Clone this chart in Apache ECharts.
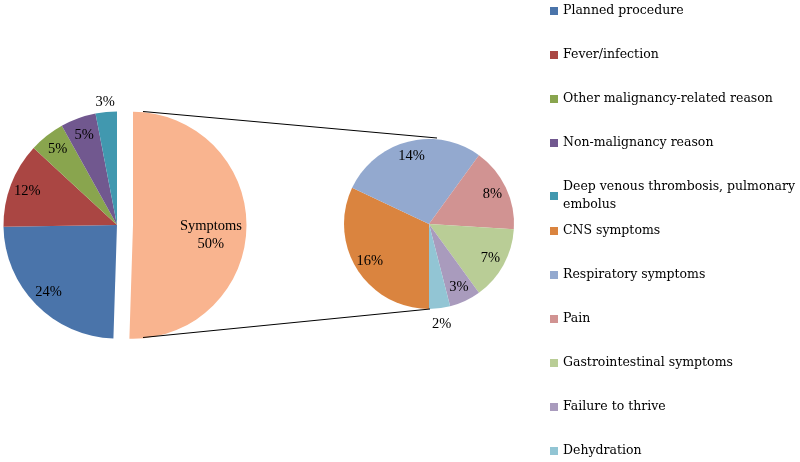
<!DOCTYPE html>
<html>
<head>
<meta charset="utf-8">
<script src="https://cdn.jsdelivr.net/npm/echarts@6/dist/echarts.min.js"></script>
<style>
html,body{margin:0;padding:0;background:#fff;}
#chart{width:800px;height:462px;}
</style>
</head>
<body>
<div id="chart"></div>
<script>
// ---- data ----
var mainNames = ['Symptoms', 'Planned procedure', 'Fever/infection', 'Other malignancy-related reason', 'Non-malignancy reason', 'Deep venous thrombosis, pulmonary embolus'];
var mainValues = [50, 24, 12, 5, 5, 3];
var subNames = ['CNS symptoms', 'Respiratory symptoms', 'Pain', 'Gastrointestinal symptoms', 'Failure to thrive', 'Dehydration'];
var subValues = [16, 14, 8, 7, 3, 2];
var legendMain = ['Planned procedure', 'Fever/infection', 'Other malignancy-related reason', 'Non-malignancy reason', 'Deep venous thrombosis, pulmonary embolus'];
var legendSub = ['CNS symptoms', 'Respiratory symptoms', 'Pain', 'Gastrointestinal symptoms', 'Failure to thrive', 'Dehydration'];

// ---- styles / layout ----
var mainColors = ['#F9B48F', '#4A74AA', '#AA4643', '#89A54E', '#71588F', '#4198AF'];
var subColors = ['#DA843F', '#93A9CF', '#D19392', '#B9CD96', '#A99BBD', '#92C5D4'];
var C1 = [117, 225], R1 = 113.5, OFF = 16;
var C2 = [429, 224], R2 = 85;
var labelFont = {fontFamily: 'Liberation Serif', fontSize: 14.5, color: '#000'};

function mainData(withColor) {
  return mainNames.map(function (n, i) {
    var d = {name: n, value: mainValues[i]};
    if (withColor) d.itemStyle = {color: mainColors[i]};
    if (n === 'Symptoms') d.selected = true;
    return d;
  });
}
function subData(withColor) {
  return subNames.map(function (n, i) {
    var d = {name: n, value: subValues[i]};
    if (withColor) d.itemStyle = {color: subColors[i]};
    return d;
  });
}

function overlay(data, center, radius, startAngle, showNames, extraLabel) {
  data.forEach(function (d) {
    d.itemStyle = {color: 'rgba(0,0,0,0)'};
    d.label = {show: showNames.indexOf(d.name) >= 0};
  });
  return {
    type: 'pie', center: center, radius: radius, startAngle: startAngle, clockwise: true,
    selectedMode: 'single', selectedOffset: OFF, silent: true, animation: false,
    avoidLabelOverlap: false, z: 3,
    label: Object.assign({position: 'inside', formatter: '{c}%'}, labelFont, extraLabel || {}),
    labelLine: {show: false},
    emphasis: {disabled: true},
    select: {itemStyle: {color: 'rgba(0,0,0,0)'}},
    data: data
  };
}

var series = [
  {
    type: 'pie', center: C1, radius: [0, R1], startAngle: 90, clockwise: true,
    selectedMode: 'single', selectedOffset: OFF, silent: true, animation: false,
    label: {show: false}, labelLine: {show: false},
    itemStyle: {borderWidth: 0},
    emphasis: {disabled: true},
    data: mainData(true)
  },
  {
    type: 'pie', center: C2, radius: [0, R2], startAngle: 270, clockwise: true,
    silent: true, animation: false,
    label: {show: false}, labelLine: {show: false},
    itemStyle: {borderWidth: 0},
    emphasis: {disabled: true},
    data: subData(true)
  },
  overlay(mainData(false), C1, [R1 * 0.64, R1], 90, ['Planned procedure', 'Fever/infection', 'Other malignancy-related reason', 'Non-malignancy reason']),
  overlay(mainData(false), C1, [R1 * 0.32, R1], 90, ['Symptoms'], {formatter: '\n{b}\n{c}%', lineHeight: 18}),
  overlay(mainData(false), C1, [R1, R1 * 1.12], 90, ['Deep venous thrombosis, pulmonary embolus']),
  overlay(subData(false), C2, [R2 * 0.58, R2], 270, ['CNS symptoms', 'Respiratory symptoms', 'Pain', 'Gastrointestinal symptoms', 'Failure to thrive']),
  overlay(subData(false), C2, [R2, R2 * 1.3], 270, ['Dehydration'])
];

var legendCommon = {
  orient: 'vertical', left: 545, height: 260, itemWidth: 8, itemHeight: 8, itemGap: 26,
  icon: 'rect', selectedMode: false,
  textStyle: {fontFamily: 'DejaVu Serif', fontSize: 12.5, color: '#000', lineHeight: 18},
  formatter: function (n) {
    return n === 'Deep venous thrombosis, pulmonary embolus' ? 'Deep venous thrombosis, pulmonary\nembolus' : n;
  }
};

var option = {
  backgroundColor: '#fff',
  animation: false,
  legend: [
    Object.assign({}, legendCommon, {top: -3, data: legendMain}),
    Object.assign({}, legendCommon, {top: 217, data: legendSub})
  ],
  graphic: [
    {type: 'line', z: 100, silent: true, shape: {x1: C1[0] + OFF + 10, y1: C1[1] - R1, x2: C2[0] + 8, y2: C2[1] - R2 - 1}, style: {stroke: '#000', lineWidth: 1}},
    {type: 'line', z: 100, silent: true, shape: {x1: C1[0] + OFF + 10, y1: C1[1] + R1 - 1, x2: C2[0] + 1, y2: C2[1] + R2}, style: {stroke: '#000', lineWidth: 1}}
  ],
  series: series
};

var chart = echarts.init(document.getElementById('chart'), null, {renderer: 'canvas'});
chart.setOption(option);
</script>
</body>
</html>
